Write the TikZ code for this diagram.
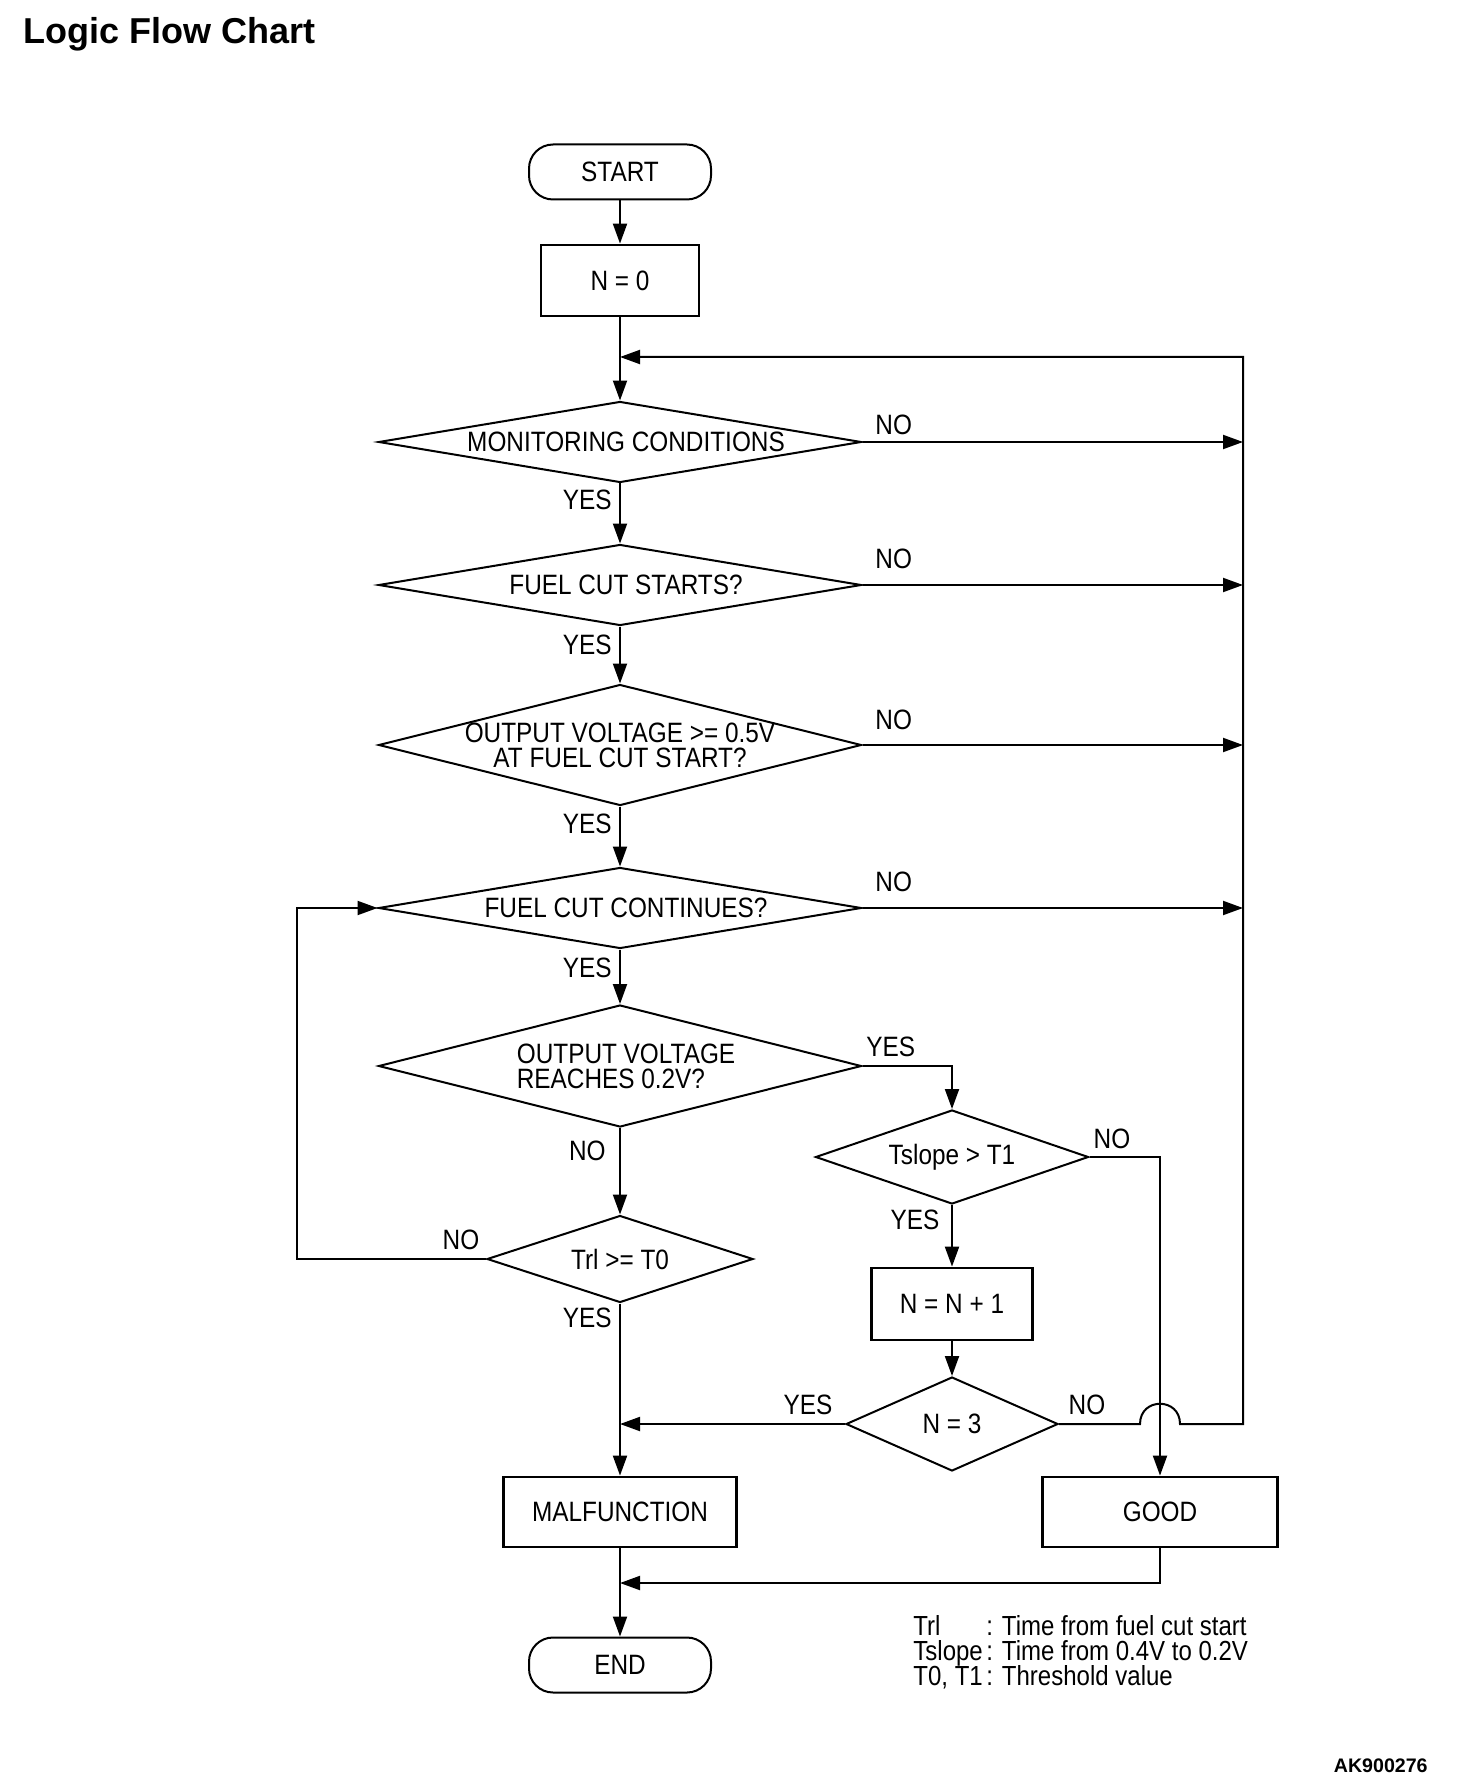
\documentclass[tikz,border=0pt]{standalone}
\usepackage{fontspec}
\setmainfont{Liberation Sans}[FakeStretch=0.87]
\newfontfamily\titlefont{Liberation Sans}
\newcommand\tightlines{\setlength{\lineskiplimit}{-20pt}}
\usetikzlibrary{shapes.geometric,arrows.meta,calc}
\begin{document}
\begin{tikzpicture}[x=0.5pt,y=-0.5pt,
  every node/.style={font={\fontsize{14}{12.4}\selectfont\tightlines}},
  arr/.style={line width=1pt,-{Triangle[length=10pt,width=7pt]}},
  procbox/.style={draw,line width=1.4pt,inner sep=0pt},
  term/.style={draw,line width=1pt,rounded corners=12pt,minimum width=91pt,minimum height=27.5pt,inner sep=0pt},
  dia/.style={diamond,draw,line width=1pt,inner sep=-40pt,align=center},
  lbl/.style={inner sep=0pt}]
\useasboundingbox (0,0) rectangle (1456,1786);

% title and code
\node[anchor=base west,inner sep=0pt,font={\titlefont\bfseries\fontsize{18}{20}\selectfont}] (title) at (23,44) {Logic Flow Chart};
\node[anchor=base east,inner sep=0pt,font={\titlefont\bfseries\fontsize{9.8}{12}\selectfont}] (code) at (1428,1772) {AK900276};

% nodes
\node[term] (start) at (620,172) {START};
\node[procbox,minimum width=79pt,minimum height=35.5pt] (n0) at (620,280.5) {N = 0};
\node[dia,minimum width=241.5pt,minimum height=40.5pt] (d1) at (620,442) {\hspace*{6pt}MONITORING CONDITIONS};
\node[dia,minimum width=241.5pt,minimum height=40.5pt] (d2) at (620,585) {\hspace*{6pt}FUEL CUT STARTS?};
\node[dia,minimum width=241.5pt,minimum height=60.5pt] (d3) at (620,745) {OUTPUT VOLTAGE >= 0.5V\\AT FUEL CUT START?};
\node[dia,minimum width=241.5pt,minimum height=40.5pt] (d4) at (620,908) {\hspace*{6pt}FUEL CUT CONTINUES?};
\node[dia,minimum width=241.5pt,minimum height=61pt,align=left] (d5) at (620,1066) {\hspace*{6pt}OUTPUT VOLTAGE\\\hspace*{6pt}REACHES 0.2V?};
\node[dia,minimum width=136.5pt,minimum height=47pt] (ts) at (952,1157) {Tslope > T1};
\node[dia,minimum width=133pt,minimum height=43.5pt] (trl) at (620,1259) {Trl >= T0};
\node[procbox,minimum width=80.5pt,minimum height=36pt] (nn) at (952,1304) {N = N + 1};
\node[dia,minimum width=106pt,minimum height=47pt] (n3) at (952,1424) {N = 3};
\node[procbox,minimum width=116.5pt,minimum height=35pt] (mal) at (620,1512) {MALFUNCTION};
\node[procbox,minimum width=117.5pt,minimum height=35pt] (good) at (1160,1512) {GOOD};
\node[term] (endn) at (620,1665) {END};

% helper coordinates
\coordinate (rx) at (1243,357);
\coordinate (hopL) at (1140,1424);
\coordinate (hopR) at (1180,1424);
\coordinate (j2) at (620,1583);

% main axis
\draw[arr] (start) -- (n0);
\draw[arr] (n0) -- (d1);
\draw[arr] (d1) -- (d2);
\draw[arr] (d2) -- (d3);
\draw[arr] (d3) -- (d4);
\draw[arr] (d4) -- (d5);
\draw[arr] (d5) -- (trl);
\draw[arr] (trl) -- (mal);
\draw[arr] (mal) -- (endn);

% NO branches to right rail
\draw[arr] (d1.east) -- (d1.east -| rx);
\draw[arr] (d2.east) -- (d2.east -| rx);
\draw[arr] (d3.east) -- (d3.east -| rx);
\draw[arr] (d4.east) -- (d4.east -| rx);

% right branch
\draw[arr] (d5.east) -| (ts);
\draw[arr] (ts) -- (nn);
\draw[arr] (nn) -- (n3);
\draw[arr] (ts.east) -| (good);
\draw[arr] (n3.west) -- (n3.west -| mal);
\draw[arr] (n3.east) -- (hopL) .. controls (1140,1397) and (1180,1397) .. (hopR) -- (n3.east -| rx) -- (rx) -- (rx -| n0);
\draw[arr] (trl.west) -- ++(-189,0) |- (d4.west);
\draw[arr] (good.south) |- (j2);

% labels
\node[lbl,anchor=east] (y1) at (612,500) {YES};
\node[lbl,anchor=east] (y2) at (612,645) {YES};
\node[lbl,anchor=east] (y3) at (612,824) {YES};
\node[lbl,anchor=east] (y4) at (612,968) {YES};
\node[lbl,anchor=east] (no5) at (606,1151) {NO};
\node[lbl,anchor=east] (y6) at (612,1318) {YES};
\node[lbl,anchor=west] (no1) at (875,425) {NO};
\node[lbl,anchor=west] (no2) at (875,559) {NO};
\node[lbl,anchor=west] (no3) at (875,720) {NO};
\node[lbl,anchor=west] (no4) at (875,882) {NO};
\node[lbl,anchor=west] (y5) at (866,1047) {YES};
\node[lbl] (nots) at (1112,1139) {NO};
\node[lbl] (yts) at (915,1220) {YES};
\node[lbl] (notrl) at (461,1240) {NO};
\node[lbl] (yn3) at (808,1405) {YES};
\node[lbl] (non3) at (1087,1405) {NO};

% legend
\node[anchor=west,inner sep=0pt,align=left,font={\fontsize{13.8}{12.6}\selectfont\tightlines}] (legend) at (913,1652)
  {\makebox[36.5pt][l]{Trl}: Time from fuel cut start\\\makebox[36.5pt][l]{Tslope}: Time from 0.4V to 0.2V\\\makebox[36.5pt][l]{T0, T1}: Threshold value};
\end{tikzpicture}
\end{document}
